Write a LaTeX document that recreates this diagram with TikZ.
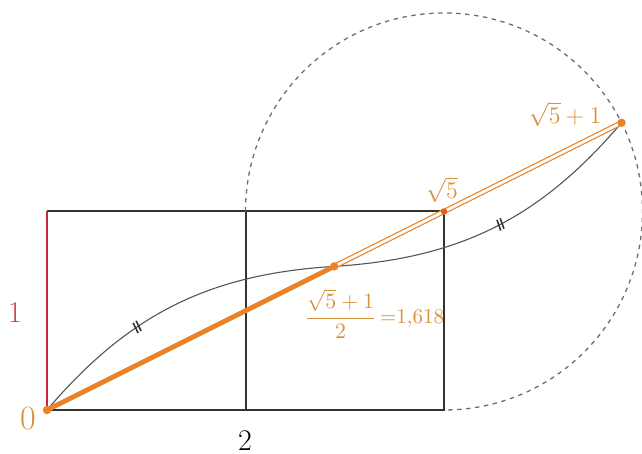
\documentclass[tikz,border=0pt]{standalone}
\usetikzlibrary{decorations.markings}
\definecolor{gold}{HTML}{E8832A}
\definecolor{goldtxt}{HTML}{D9903A}
\definecolor{redline}{HTML}{C8283C}
\definecolor{redtxt}{HTML}{D04048}
\definecolor{frame}{HTML}{333333}
\definecolor{thin}{HTML}{555555}
\tikzset{
  framestyle/.style={draw=frame, line width=1pt},
  curvestyle/.style={draw=thin, line width=0.55pt},
  dashstyle/.style={draw=thin!85, line width=0.65pt, dash pattern=on 2.2pt off 2.3pt},
  thickorange/.style={draw=gold, line width=2.4pt},
  doubleorange/.style={draw=gold, line width=0.6pt, double=white, double distance=1.4pt},
  dotstyle/.style={circle, fill=gold, inner sep=0pt, minimum size=4.2pt},
  smalldot/.style={circle, fill=gold!70!red, inner sep=0pt, minimum size=3.2pt},
  ticksat/.style={postaction={decorate}, decoration={markings, mark=at position #1 with {
      \draw[frame, line width=0.8pt] (-1.2pt,-2.8pt) -- (-0.4pt,2.8pt);
      \draw[frame, line width=0.8pt] (0.6pt,-2.8pt) -- (1.4pt,2.8pt);}}},
}
\begin{document}
\begin{tikzpicture}[x=99.25pt, y=99.25pt]
\useasboundingbox (-0.23678,-0.22166) rectangle (2.99748,2.06549);
% key points
\coordinate (O) at (0,0);
\coordinate (M1) at (1,0);
\coordinate (A) at (2,0);
\coordinate (B) at (2,1);
\coordinate (N1) at (1,1);
\coordinate (C) at (0,1);
\coordinate (H) at (1.44721,0.72361);
\coordinate (P) at (2.89443,1.44721);
% rectangle
\draw[framestyle] (O) -- (A) -- (B) -- (C);
\draw[framestyle] (M1) -- (N1);
\draw[draw=redline, line width=1pt] (O) -- (C);
% dashed circle arc centred at B
\draw[dashstyle] (N1) arc[start angle=180, end angle=-90, radius=1];
% curves with tick marks
\draw[curvestyle, ticksat=0.37] (O) to[bend left=23] (H);
\draw[curvestyle, ticksat=0.52] (H) to[bend right=23] (P);
% orange segments
\draw[thickorange] (O) -- (H);
\draw[doubleorange] (H) -- (P);
% dots
\node[dotstyle] (dO) at (O) {};
\node[dotstyle] (dH) at (H) {};
\node[dotstyle] (dP) at (P) {};
\node[smalldot] (dB) at (B) {};
% labels
\node[text=goldtxt, font=\fontsize{17}{20}\selectfont] (l0) at (-0.0957,-0.045) {0};
\node[text=redtxt, font=\fontsize{15}{18}\selectfont] (l1) at (-0.161,0.489) {1};
\node[text=black, font=\fontsize{15}{18}\selectfont, inner sep=1pt] (l2) at (0.9975,-0.155) {2};
\node[text=goldtxt, font=\fontsize{12}{14}\selectfont] (lr5) at (1.99,1.11) {$\sqrt{5}$};
\node[text=goldtxt, font=\fontsize{12}{14}\selectfont] (lr51) at (2.61,1.49) {$\sqrt{5}+1$};
\node[text=goldtxt, font=\fontsize{10.5}{12}\selectfont, inner sep=0pt] (lfr) at (1.65,0.485) {$\displaystyle\frac{\sqrt{5}+1}{2}$\,{=}1,618};
\end{tikzpicture}
\end{document}
